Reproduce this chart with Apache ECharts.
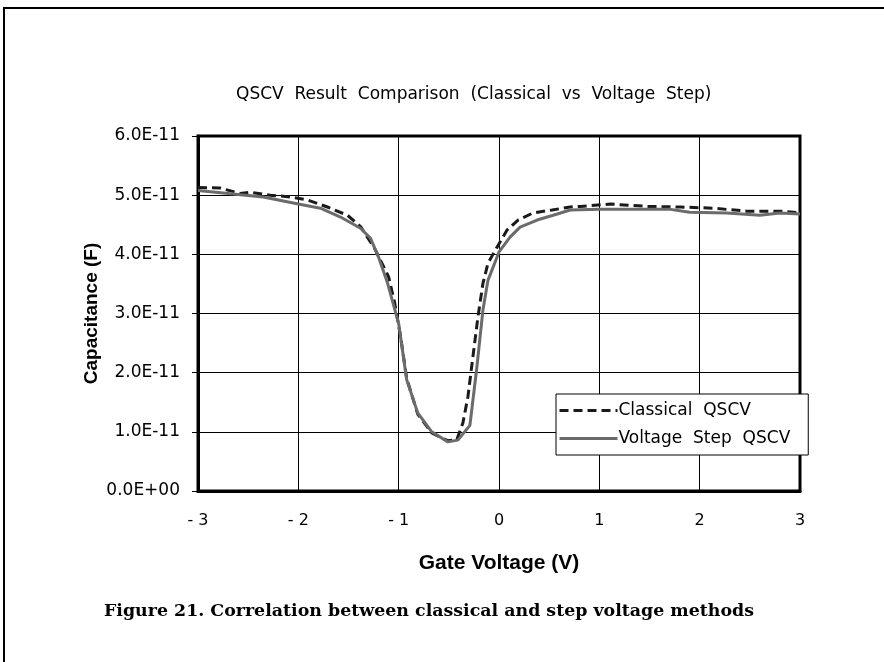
<!DOCTYPE html>
<html>
<head>
<meta charset="utf-8">
<script src="https://cdn.jsdelivr.net/npm/echarts@6/dist/echarts.min.js"></script>
<style>
  html, body { margin: 0; padding: 0; background: #fff; }
  #main { width: 884px; height: 662px; }
</style>
</head>
<body>
<div id="main"></div>
<script>
// values, capacitance in units of 1e-11 F
var classicalV = [-3.0, -2.78, -2.58, -2.48, -2.28, -2.08, -1.91, -1.71, -1.51, -1.38, -1.24, -1.1, -1.04, -0.98, -0.92, -0.81, -0.67, -0.51, -0.42, -0.36, -0.31, -0.26, -0.21, -0.16, -0.11, -0.02, 0.08, 0.19, 0.34, 0.53, 0.71, 0.81, 1.11, 1.48, 1.81, 2.13, 2.47, 2.8, 3.0];
var classicalC = [5.13, 5.12, 5.03, 5.05, 5.00, 4.97, 4.92, 4.80, 4.66, 4.47, 4.10, 3.62, 3.18, 2.60, 1.90, 1.30, 0.98, 0.85, 0.87, 1.15, 1.59, 2.27, 2.94, 3.51, 3.85, 4.12, 4.41, 4.58, 4.70, 4.75, 4.80, 4.81, 4.85, 4.81, 4.80, 4.78, 4.73, 4.73, 4.70];
var stepV = [-3.0, -2.7, -2.35, -2.0, -1.78, -1.58, -1.38, -1.28, -1.2, -1.11, -1.0, -0.92, -0.81, -0.67, -0.51, -0.41, -0.29, -0.22, -0.16, -0.11, 0.0, 0.11, 0.21, 0.38, 0.54, 0.71, 1.0, 1.31, 1.71, 1.9, 2.27, 2.6, 2.8, 3.0];
var stepC = [5.08, 5.03, 4.97, 4.85, 4.78, 4.63, 4.44, 4.27, 3.95, 3.51, 2.83, 1.88, 1.32, 1.00, 0.83, 0.86, 1.11, 2.10, 3.06, 3.56, 4.04, 4.29, 4.46, 4.58, 4.66, 4.75, 4.76, 4.76, 4.76, 4.71, 4.70, 4.66, 4.70, 4.68];
var seriesNames = ['Classical  QSCV', 'Voltage  Step  QSCV'];

var sans = '"DejaVu Sans", "Liberation Sans", sans-serif';

function pairs(xs, ys) {
  var out = [];
  for (var i = 0; i < xs.length; i++) {
    out.push([xs[i], ys[i] * 1e-11]);
  }
  return out;
}

function sci(v) {
  var s = v.toExponential(1).toUpperCase();
  var p = s.split('E');
  var sign = p[1].charAt(0);
  var e = p[1].slice(1);
  if (e.length < 2) e = '0' + e;
  return p[0] + 'E' + sign + e;
}

var chart = echarts.init(document.getElementById('main'));
chart.setOption({
  animation: false,
  backgroundColor: '#fff',
  title: {
    text: 'QSCV  Result  Comparison  (Classical  vs  Voltage  Step)',
    left: 231,
    top: 81,
    textStyle: { fontFamily: sans, fontSize: 17, fontWeight: 'normal', color: '#000' }
  },
  grid: {
    left: 198, right: 84, top: 136, bottom: 171,
    show: true, borderColor: '#000', borderWidth: 3
  },
  legend: {
    orient: 'vertical',
    left: 556, top: 394,
    backgroundColor: '#fff',
    borderColor: '#000',
    borderWidth: 1,
    padding: [8, 18, 8, 2],
    itemGap: 11,
    itemWidth: 58,
    itemHeight: 18,
    itemStyle: { opacity: 0 },
    lineStyle: { width: 3 },
    textStyle: { fontFamily: sans, fontSize: 17, color: '#000', padding: [0, 0, 0, -4] },
    data: seriesNames
  },
  xAxis: {
    type: 'value',
    min: -3, max: 3, interval: 1,
    name: 'Gate Voltage (V)',
    nameLocation: 'middle',
    nameGap: 62,
    nameMoveOverlap: false,
    nameTextStyle: { fontFamily: '"Liberation Sans", sans-serif', fontWeight: 'bold', fontSize: 21, color: '#000' },
    axisLine: { lineStyle: { color: '#000', width: 3 } },
    axisTick: { show: false },
    axisLabel: {
      margin: 22,
      fontFamily: sans, fontSize: 16, color: '#000',
      formatter: function (v) { return v < 0 ? '- ' + Math.abs(v) : String(v); }
    },
    splitLine: { lineStyle: { color: '#000', width: 1 } }
  },
  yAxis: {
    type: 'value',
    min: 0, max: 6e-11, interval: 1e-11,
    name: 'Capacitance (F)',
    nameLocation: 'middle',
    nameGap: 97,
    nameMoveOverlap: false,
    nameTextStyle: { fontFamily: '"Liberation Sans", sans-serif', fontWeight: 'bold', fontSize: 19, color: '#000' },
    axisLine: { onZero: false, lineStyle: { color: '#000', width: 3 } },
    axisTick: { show: true, length: 6, lineStyle: { color: '#000', width: 1 } },
    axisLabel: {
      margin: 18,
      fontFamily: sans, fontSize: 17, color: '#000',
      formatter: sci
    },
    splitLine: { lineStyle: { color: '#000', width: 1 } }
  },
  series: [
    {
      name: seriesNames[0],
      type: 'line',
      symbol: 'none',
      data: pairs(classicalV, classicalC),
      lineStyle: { color: '#1a1a1a', width: 3, type: [9, 5] },
      itemStyle: { color: '#1a1a1a' }
    },
    {
      name: seriesNames[1],
      type: 'line',
      symbol: 'none',
      data: pairs(stepV, stepC),
      lineStyle: { color: '#6b6b6b', width: 3 },
      itemStyle: { color: '#6b6b6b' }
    }
  ],
  graphic: [
    {
      type: 'rect',
      shape: { x: 4, y: 8, width: 1000, height: 1000 },
      style: { fill: 'none', stroke: '#000', lineWidth: 2 },
      silent: true
    },
    {
      type: 'text',
      x: 104, y: 611,
      style: {
        text: 'Figure 21. Correlation between classical and step voltage methods',
        font: 'bold 17.4px "DejaVu Serif"',
        fill: '#000',
        textVerticalAlign: 'middle'
      }
    }
  ]
});
</script>
</body>
</html>
